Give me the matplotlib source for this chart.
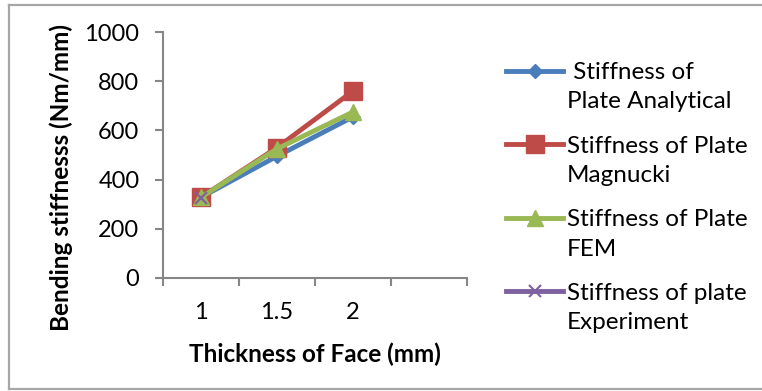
import numpy as np
import matplotlib
matplotlib.use("Agg")
import matplotlib.pyplot as plt
from matplotlib.lines import Line2D

plt.rcParams["font.family"] = ["Lato", "DejaVu Sans"]

# face thickness categories (4th slot left empty on the axis)
thickness = ["1", "1.5", "2", ""]

analytical = [328, 495, 655]
magnucki = [328, 530, 760]
fem = [328, 525, 675]
experiment = [325]

labels = [
    " Stiffness of\nPlate Analytical",
    "Stiffness of Plate\nMagnucki",
    "Stiffness of Plate\nFEM",
    "Stiffness of plate\nExperiment",
]

W, H = 762, 391
fig = plt.figure(figsize=(W / 100, H / 100), dpi=100)
ax = fig.add_axes([163 / W, 1 - 278 / H, (467 - 163) / W, (278 - 32) / H])

# outer chart frame (left, top, bottom edges)
frame_kw = dict(transform=fig.transFigure, color="#a6a6a6", lw=1.6)
fig.add_artist(Line2D([9 / W, 9 / W], [1 - 5 / H, 1 - 389 / H], **frame_kw))
fig.add_artist(Line2D([9 / W, 1.0], [1 - 5 / H, 1 - 5 / H], **frame_kw))
fig.add_artist(Line2D([9 / W, 1.0], [1 - 389 / H, 1 - 389 / H], **frame_kw))

pos = np.arange(1, len(thickness) + 1)
lw = 3.5
ax.plot(pos[:3], analytical, color="#4a7ebb", lw=lw, marker="D", ms=7,
        label=labels[0])
ax.plot(pos[:3], magnucki, color="#be4b48", lw=lw, marker="s", ms=12.5,
        label=labels[1])
ax.plot(pos[:3], fem, color="#98b954", lw=lw, marker="^", ms=11.5,
        label=labels[2])
ax.plot(pos[:1], experiment, color="#7d60a0", lw=lw, marker="x", ms=9,
        mew=1.5, label=labels[3])

ax.set_xlim(0.5, len(thickness) + 0.5)
ax.set_ylim(0, 1000)
ax.set_yticks(np.arange(0, 1001, 200))
ax.set_xticks(np.arange(0.5, len(thickness) + 1, 1.0))
ax.set_xticklabels([])
ax.set_xticks(pos, thickness, minor=True)
ax.tick_params(axis="x", which="minor", length=0, pad=17, labelsize=17)
ax.tick_params(axis="x", which="major", length=6, color="#868686", width=1.5)
ax.tick_params(axis="y", length=6, color="#868686", width=1.5, labelsize=17, pad=11)

for s in ["top", "right"]:
    ax.spines[s].set_visible(False)
for s in ["left", "bottom"]:
    ax.spines[s].set_color("#868686")
    ax.spines[s].set_linewidth(1.5)

ax.set_xlabel("Thickness of Face (mm)", fontsize=17.5, fontweight="bold", labelpad=14)
ax.set_ylabel("Bending stiffnesss (Nm/mm)", fontsize=17.5, fontweight="bold")
ax.yaxis.set_label_coords(-0.296, 0.41)

leg = fig.legend(loc="upper left", bbox_to_anchor=(506 / W, 1 - 62 / H), frameon=False,
                 prop={"size": 17.5}, handlelength=2.35, handletextpad=0.15,
                 labelspacing=0.95, borderpad=0, borderaxespad=0)
for t in leg.get_texts():
    t.set_linespacing(1.5)
# put each legend key level with the first line of its label
for col in leg._legend_handle_box.get_children():
    for hp in col.get_children():
        hp.align = "top"

fig.savefig("out.png", dpi=100)
